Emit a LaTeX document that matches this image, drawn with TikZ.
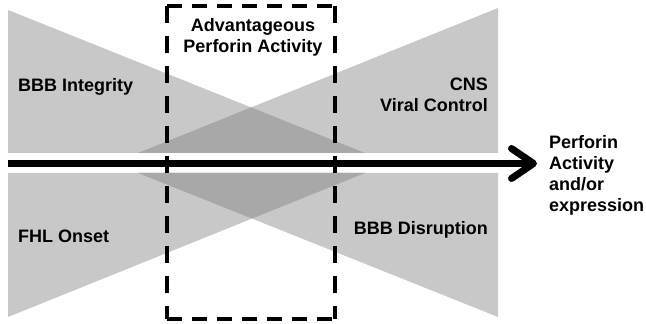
\documentclass[tikz,border=0pt]{standalone}
\usepackage{fontspec}
\setmainfont{Liberation Sans}
\usetikzlibrary{arrows.meta}
\definecolor{wedge}{HTML}{C8C8C8}
\definecolor{wedgedark}{HTML}{A8A8A8}
\begin{document}
\begin{tikzpicture}[x=1pt,y=1pt,
  wedgefill/.style={fill=wedge},
  overlapfill/.style={fill=wedgedark},
  lbl/.style={font=\bfseries\fontsize{18}{21}\selectfont, inner sep=0pt},
  boxedge/.style={line width=4pt},
  axis/.style={line width=7pt, -{Straight Barb[length=22pt,width=30pt,line cap=round,line join=round]}}]
\useasboundingbox (0,0) rectangle (646,324);

% upper pair of wedges
\fill[wedgefill] (8,314) -- (8,171) -- (365,171) -- cycle;
\fill[wedgefill] (138,171) -- (498,316) -- (498,171) -- cycle;
\begin{scope}
  \clip (8,314) -- (8,171) -- (365,171) -- cycle;
  \fill[overlapfill] (138,171) -- (498,316) -- (498,171) -- cycle;
\end{scope}

% lower pair of wedges
\fill[wedgefill] (8,151) -- (8,7) -- (365,151) -- cycle;
\fill[wedgefill] (138,151) -- (498,151) -- (498,7) -- cycle;
\begin{scope}
  \clip (8,151) -- (8,7) -- (365,151) -- cycle;
  \fill[overlapfill] (138,151) -- (498,151) -- (498,7) -- cycle;
\end{scope}

% dashed window
\coordinate (bl) at (167,5);
\coordinate (br) at (335,5);
\coordinate (tl) at (167,318);
\coordinate (tr) at (335,318);
\draw[boxedge, dash pattern=on 15pt off 10pt] (tl) -- (tr);
\draw[boxedge, dash pattern=on 15pt off 10pt] (bl) -- (br);
\draw[boxedge, dash pattern=on 17pt off 13pt] (tl) -- (bl);
\draw[boxedge, dash pattern=on 17pt off 13pt] (tr) -- (br);

% perforin axis
\coordinate (axstart) at (8,160.5);
\coordinate (axend) at (537,160.5);
\draw[axis] (axstart) -- (axend);

% labels (multi-line nodes are placed by the baseline of their last line)
\node[lbl, anchor=base west] (integrity) at (18,232) {BBB Integrity};
\node[lbl, anchor=base west] (fhl) at (18,81) {FHL Onset};
\node[lbl, anchor=base east] (disruption) at (488,89) {BBB Disruption};
\node[lbl, anchor=base, align=center] (adv) at (253,271) {Advantageous\\Perforin Activity};
\node[lbl, anchor=base east, align=right] (cns) at (488,212) {CNS\\Viral Control};
\node[lbl, anchor=base west, align=left] (perf) at (549,112) {Perforin\\Activity\\and/or\\expression};
\end{tikzpicture}
\end{document}
